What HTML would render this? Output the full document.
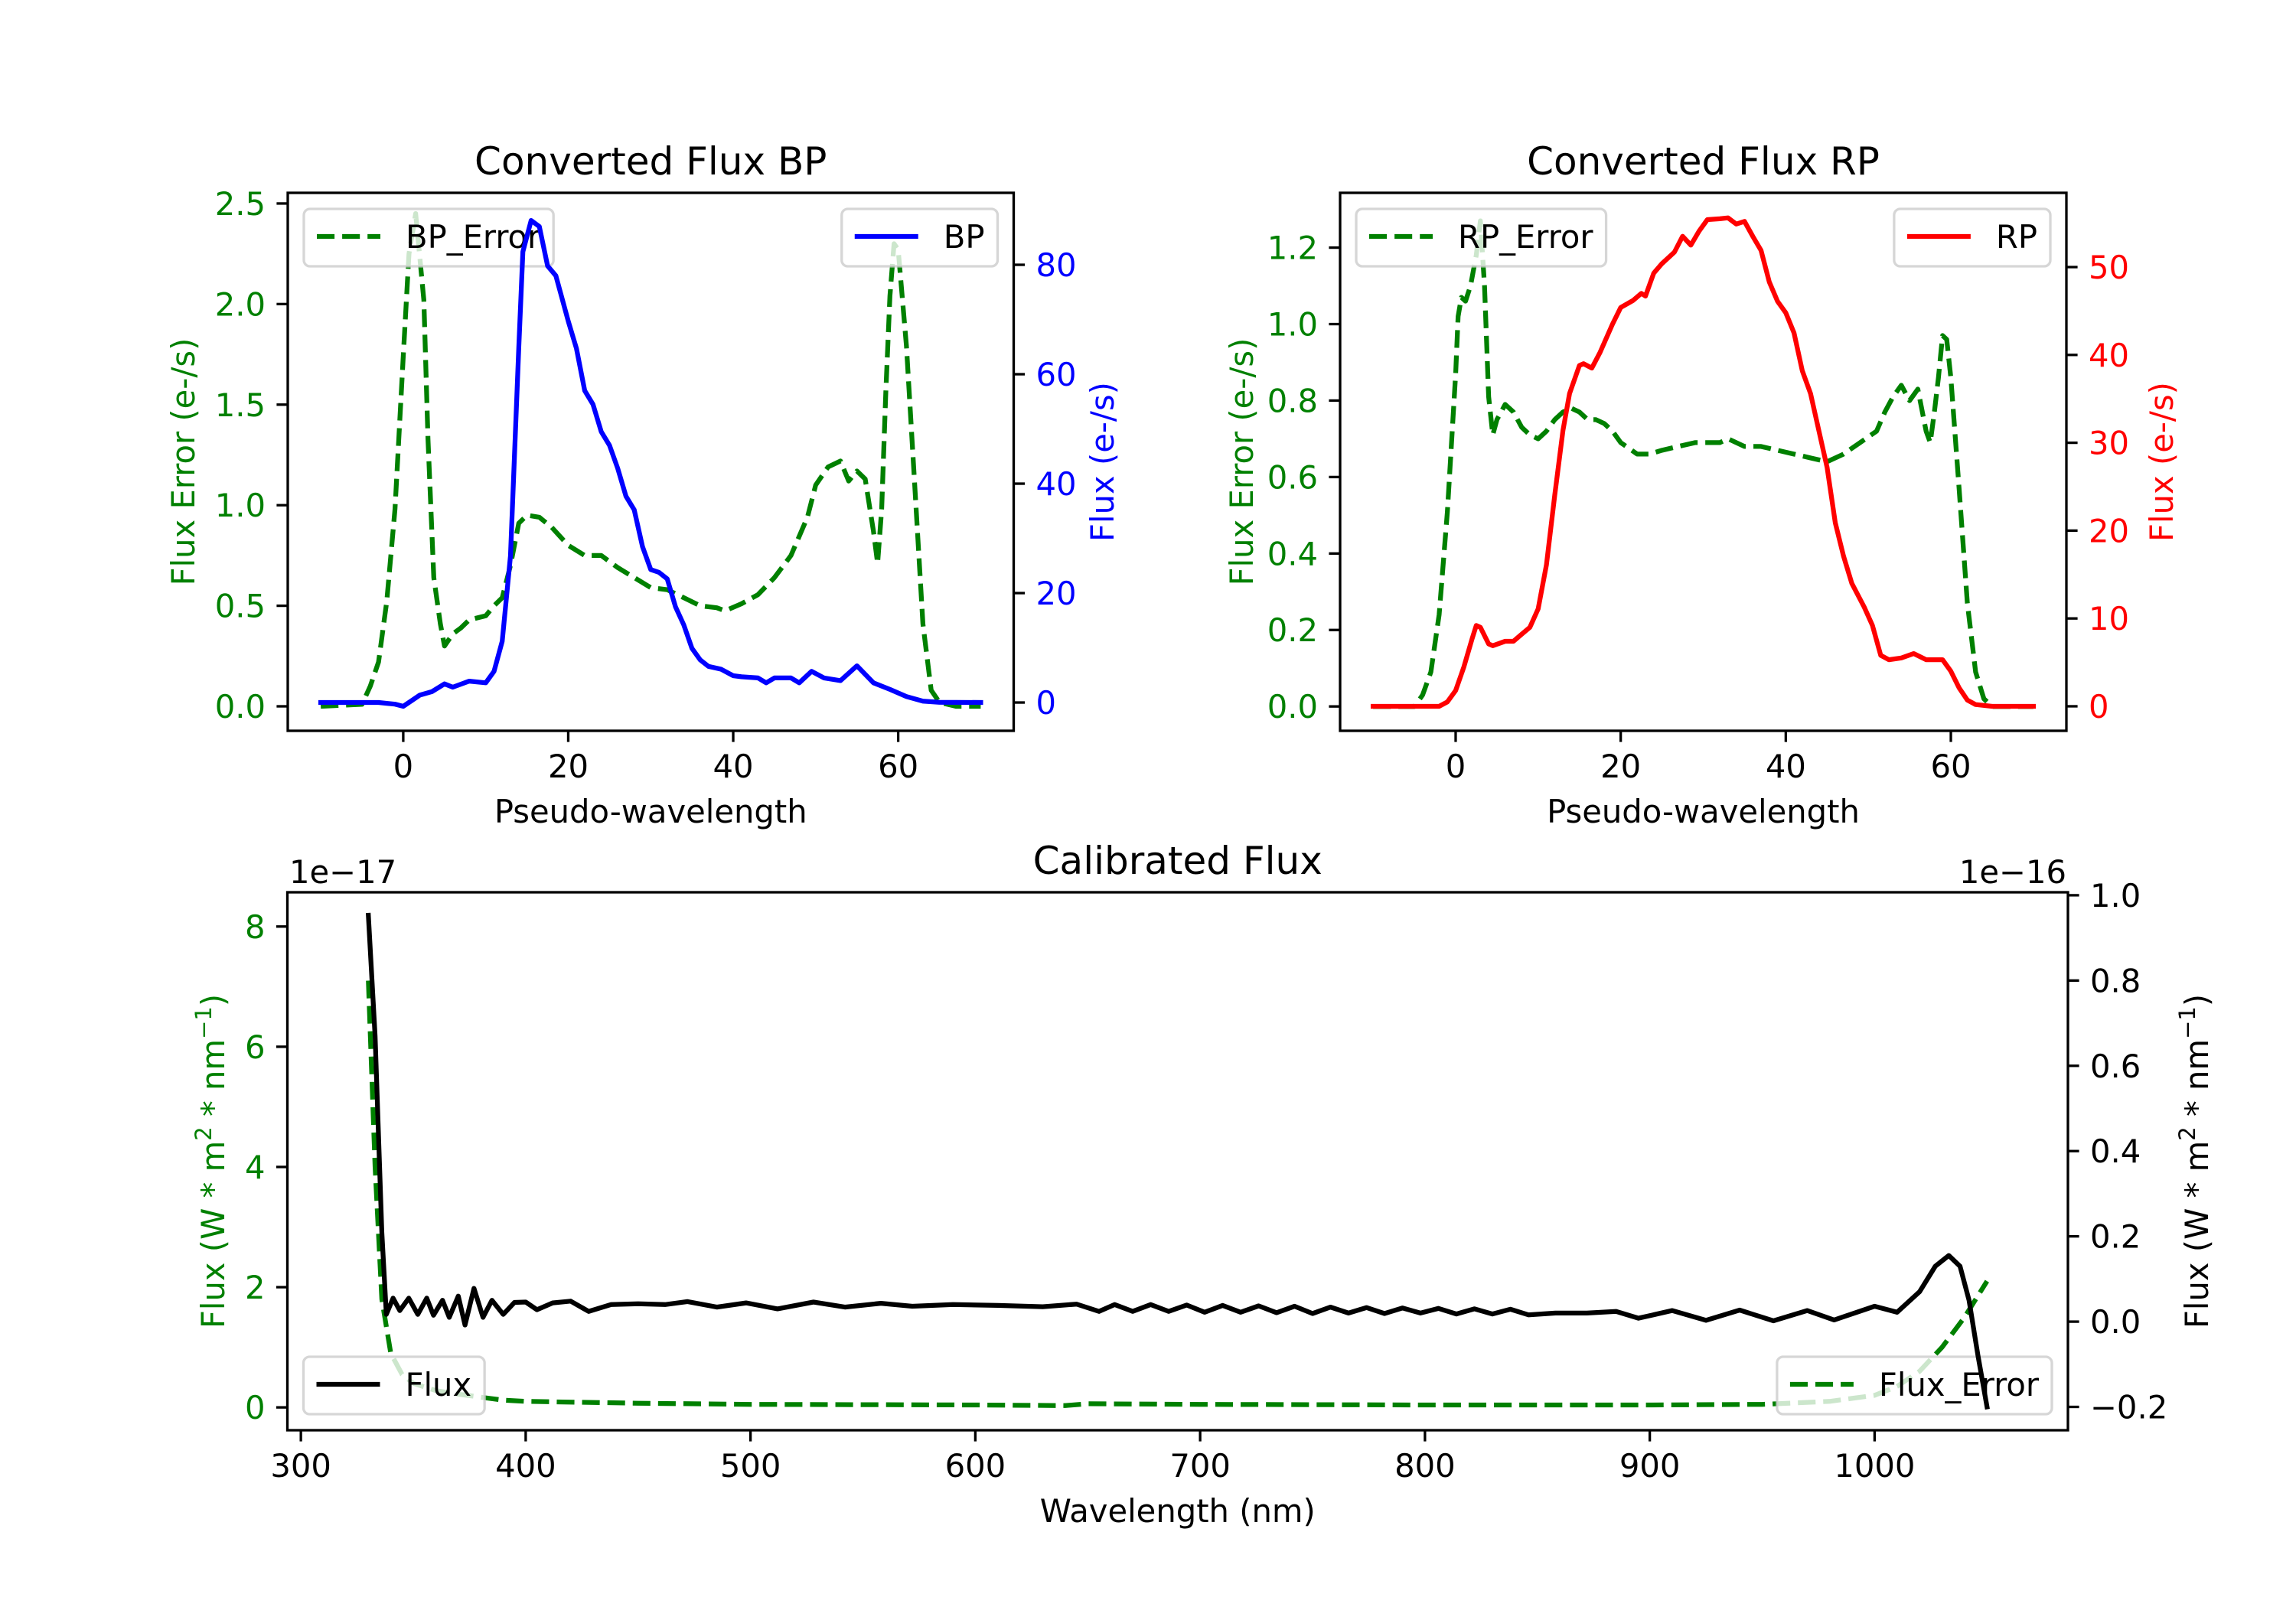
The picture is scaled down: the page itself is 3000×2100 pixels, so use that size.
<!DOCTYPE html>
<html><head><meta charset="utf-8">
<style>
html,body{margin:0;padding:0;background:#fff;}
svg{display:block;font-family:"DejaVu Sans","Liberation Sans",sans-serif;}
</style></head>
<body>
<svg id="fig" width="3000" height="2100" viewBox="0 0 3000 2100" xmlns="http://www.w3.org/2000/svg">
<rect x="0" y="0" width="3000" height="2100" fill="#ffffff"/>
</svg>
<script>
// ---------- BP panel data ----------
const bpX = [-10,-5,-3,-1,0,2,3.5,5,6,8,10,11,12,13,14,14.5,15.5,16.5,17.5,18.5,20,21,22,23,24,25,26,27,28,29,30,31,32,33,34,35,36,37,38.5,40,41,43,44,45,47,48,49.5,51,53,55,57,59,61,63,65,70];
const bpFlux = [0,0,0,-0.3,-0.7,1.35,2,3.4,2.8,3.9,3.6,5.7,11.2,26.8,64.7,82.4,88.1,87,79.8,78,69.7,64.7,57,54.5,49.5,47,42.8,37.7,35.2,28.5,24.3,23.8,22.6,17.5,14.2,9.9,7.8,6.6,6.1,4.9,4.7,4.5,3.6,4.5,4.5,3.6,5.7,4.5,4,6.7,3.6,2.4,1.1,0.25,0.05,0];
const bpErrX = [-10,-5,-4,-3,-2,-1,0,0.7,1.5,2.5,3,3.7,4.5,5,6,7,8,10,11,12,13,14,15,16.5,18,20,22,24,26,28,30,32,34,36,38,39,41,43,45,47,49,50,51.5,53,54,55,56,57,57.5,58,58.5,59,59.5,60,61,62,63,64,65,67,70];
const bpErr = [0,0.01,0.1,0.22,0.52,0.98,1.74,2.25,2.45,2.02,1.33,0.64,0.41,0.3,0.36,0.39,0.43,0.45,0.5,0.54,0.7,0.91,0.95,0.94,0.89,0.8,0.75,0.75,0.69,0.64,0.59,0.58,0.54,0.5,0.49,0.475,0.51,0.555,0.64,0.75,0.94,1.1,1.19,1.22,1.12,1.17,1.13,0.87,0.71,0.98,1.56,2.04,2.3,2.27,1.79,1.1,0.41,0.08,0.02,0,0];
const bpXTicks = [0,20,40,60];
const bpLeftTicks = [0,0.5,1.0,1.5,2.0,2.5];
const bpLeftLabels = ["0.0","0.5","1.0","1.5","2.0","2.5"];
const bpRightTicks = [0,20,40,60,80];
const bpRightLabels = ["0","20","40","60","80"];

// ---------- RP panel data ----------
const rpX = [-10,-2,-1,0,1,2,2.5,3,4,4.5,6,7,8,9,10,11,12,13,13.8,15,15.5,16.5,17.5,19,20,21.5,22.5,23,24,25,26.5,27.5,28.5,29.5,30.5,32,33,34,35,36,37,38,39,40,41,42,43,44,45,46,47,48,49.5,50.5,51.5,52.5,54,55.5,57,58,59,60,61,62,63,65,70];
const rpFlux = [0,0,0.5,1.8,4.5,7.7,9.2,9,7.1,6.9,7.4,7.4,8.2,9,11.1,16.1,24,31.4,35.6,38.8,39,38.5,40.3,43.5,45.4,46.2,47,46.7,49.3,50.4,51.7,53.5,52.5,54.1,55.4,55.5,55.6,54.9,55.2,53.5,51.9,48.3,46.1,44.8,42.5,38.2,35.6,31.4,27.2,20.9,17.1,14,11.3,9.2,5.8,5.3,5.5,6,5.3,5.3,5.3,4,2.1,0.7,0.2,0,0];
const rpErrX = [-10,-5,-4,-3,-2,-1,0,0.3,0.7,1.2,1.8,2.5,3,3.5,4,4.5,5,6,7,8,9,10,11,12,13,14,15,16,17,18,19,20,22,23.5,25,27,29,31,32,33,35,37,39,41,43,45,47,49,51,52,53,54,55,56,57,57.5,58,58.5,59,59.5,60,61,62,63,64,65,70];
const rpErr = [0,0,0.03,0.09,0.24,0.51,0.87,1.02,1.07,1.06,1.1,1.18,1.27,1.1,0.81,0.71,0.75,0.79,0.77,0.73,0.71,0.7,0.72,0.75,0.77,0.78,0.77,0.75,0.75,0.74,0.72,0.69,0.66,0.66,0.67,0.68,0.69,0.69,0.69,0.7,0.68,0.68,0.67,0.66,0.65,0.64,0.66,0.69,0.72,0.77,0.81,0.84,0.8,0.83,0.72,0.69,0.77,0.86,0.97,0.96,0.86,0.57,0.27,0.09,0.02,0,0];
const rpXTicks = [0,20,40,60];
const rpLeftTicks = [0,0.2,0.4,0.6,0.8,1.0,1.2];
const rpLeftLabels = ["0.0","0.2","0.4","0.6","0.8","1.0","1.2"];
const rpRightTicks = [0,10,20,30,40,50];
const rpRightLabels = ["0","10","20","30","40","50"];

// ---------- Calibrated panel data ----------
const calWl = [330,333,336,338,341,344,348,352,356,359,363,366,370,373,377,381,385,390,395,400,405,412,420,428,438,450,462,472,485,498,512,528,542,558,572,590,610,630,645,655,662,670,678,686,694,702,710,718,726,734,742,750,758,766,774,782,790,798,806,814,822,830,838,846,858,872,885,895,910,925,940,955,970,982,1000,1010,1020,1027,1033,1038,1042,1046,1050];
const calFlux = [0.953,0.67,0.21,0.017,0.055,0.026,0.055,0.017,0.055,0.015,0.05,0.01,0.06,-0.008,0.078,0.01,0.05,0.017,0.045,0.046,0.028,0.044,0.048,0.024,0.04,0.042,0.04,0.047,0.034,0.044,0.03,0.046,0.034,0.043,0.036,0.04,0.038,0.035,0.041,0.024,0.04,0.024,0.04,0.024,0.039,0.022,0.038,0.022,0.037,0.021,0.036,0.019,0.034,0.02,0.033,0.019,0.032,0.02,0.031,0.018,0.03,0.018,0.029,0.016,0.02,0.02,0.024,0.008,0.026,0.003,0.027,0.002,0.026,0.004,0.036,0.022,0.07,0.13,0.155,0.13,0.05,-0.08,-0.2];
const calErrWl = [330,333,336,340,345,350,360,370,380,390,400,450,500,600,640,650,700,800,900,950,980,1000,1010,1020,1030,1040,1050];
const calErr = [7.1,4,1.8,0.9,0.55,0.4,0.28,0.22,0.17,0.12,0.1,0.07,0.05,0.04,0.03,0.06,0.05,0.04,0.04,0.05,0.1,0.2,0.35,0.6,1.0,1.5,2.1];
const calXTicks = [300,400,500,600,700,800,900,1000];
const calLeftTicks = [0,2,4,6,8];
const calLeftLabels = ["0","2","4","6","8"];
const calRightTicks = [-0.2,0,0.2,0.4,0.6,0.8,1.0];
const calRightLabels = ["\u22120.2","0.0","0.2","0.4","0.6","0.8","1.0"];

const NS = "http://www.w3.org/2000/svg";
const svg = document.getElementById("fig");
const FS = 41.7, TFS = 50, TL = 14.6, LW = 6.25, SW = 3.3;

function mk(tag, attrs, parent) {
  const e = document.createElementNS(NS, tag);
  for (const k in attrs) e.setAttribute(k, attrs[k]);
  (parent || svg).appendChild(e);
  return e;
}
function txt(s, attrs, parent) {
  const e = mk("text", attrs, parent);
  e.textContent = s;
  return e;
}
function scale(d0, d1, p0, p1) { return v => p0 + (v - d0) / (d1 - d0) * (p1 - p0); }

function drawLine(g, xs, ys, sx, sy, color, dashed, name) {
  const pts = xs.map((x, i) => sx(x).toFixed(1) + "," + sy(ys[i]).toFixed(1)).join(" ");
  const p = mk("polyline", {points: pts, fill: "none", stroke: color, "stroke-width": LW,
    "stroke-linejoin": "round", "stroke-linecap": dashed ? "butt" : "square"}, g);
  if (dashed) p.setAttribute("stroke-dasharray", "23.1 10");
  
  
  return p;
}

function legend(g, label, color, dashed, pos, box, name) {
  const lg = mk("g", {}, g);
  
  
  const t = txt(label, {"font-size": FS, fill: "#000"}, lg);
  const tw = t.getComputedTextLength();
  const w = 17 + 83 + 33 + tw + 17, h = 75, pad = 21;
  const x = pos.indexOf("left") >= 0 ? box.x0 + pad : box.x1 - pad - w;
  const y = pos.indexOf("upper") >= 0 ? box.y0 + pad : box.y1 - pad - h;
  const r = mk("rect", {x: x, y: y, width: w, height: h, rx: 8, fill: "#fff", "fill-opacity": 0.8,
    stroke: "#cccccc", "stroke-opacity": 0.8, "stroke-width": SW}, lg);
  
  
  lg.insertBefore(r, t);
  const ln = mk("line", {x1: x + 17, x2: x + 100, y1: y + 36, y2: y + 36, stroke: color, "stroke-width": LW}, lg);
  if (dashed) ln.setAttribute("stroke-dasharray", "23.1 10");
  
  
  t.setAttribute("x", x + 133);
  t.setAttribute("y", y + 51);
}

function panel(cfg) {
  const g = mk("g", {});
  
  
  const b = cfg.box;
  const sx = scale(cfg.xlim[0], cfg.xlim[1], b.x0, b.x1);
  const syl = scale(cfg.ylimL[0], cfg.ylimL[1], b.y1, b.y0);
  const syr = scale(cfg.ylimR[0], cfg.ylimR[1], b.y1, b.y0);
  drawLine(g, cfg.lx, cfg.ly, sx, syl, cfg.lcolor, cfg.ldash, cfg.name + "-left-series");
  legend(g, cfg.llabel, cfg.lcolor, cfg.ldash, cfg.lpos, b, cfg.name + "-legend-left-axis");
  drawLine(g, cfg.rx, cfg.ry, sx, syr, cfg.rcolor, cfg.rdash, cfg.name + "-right-series");
  legend(g, cfg.rlabel, cfg.rcolor, cfg.rdash, cfg.rpos, b, cfg.name + "-legend-right-axis");
  const sp = mk("rect", {x: b.x0, y: b.y0, width: b.x1 - b.x0, height: b.y1 - b.y0, fill: "none", stroke: "#000", "stroke-width": SW}, g);
  
  
  cfg.xticks.forEach(v => {
    const x = sx(v);
    mk("line", {x1: x, x2: x, y1: b.y1, y2: b.y1 + TL, stroke: "#000", "stroke-width": SW}, g);
    const t = txt(String(v), {x: x, y: b.y1 + 61, "font-size": FS, "text-anchor": "middle", fill: "#000"}, g);
    
    
  });
  cfg.lticks.forEach((v, i) => {
    const y = syl(v);
    mk("line", {x1: b.x0 - TL, x2: b.x0, y1: y, y2: y, stroke: "#000", "stroke-width": SW}, g);
    const t = txt(cfg.llabels[i], {x: b.x0 - 29, y: y + 15, "font-size": FS, "text-anchor": "end", fill: cfg.lcolor}, g);
    
    
  });
  cfg.rticks.forEach((v, i) => {
    const y = syr(v);
    mk("line", {x1: b.x1, x2: b.x1 + TL, y1: y, y2: y, stroke: "#000", "stroke-width": SW}, g);
    const t = txt(cfg.rlabels[i], {x: b.x1 + 29, y: y + 15, "font-size": FS, "text-anchor": "start", fill: cfg.rtickcolor}, g);
    
    
  });
  const cx = (b.x0 + b.x1) / 2, cy = (b.y0 + b.y1) / 2;
  const tt = txt(cfg.title, {x: cx, y: b.y0 - 24, "font-size": TFS, "text-anchor": "middle", fill: "#000"}, g);
  
  
  const xl = txt(cfg.xlabel, {x: cx, y: b.y1 + 120, "font-size": FS, "text-anchor": "middle", fill: "#000"}, g);
  
  
  const ylg = mk("text", {transform: `translate(${cfg.lylx},${cy}) rotate(-90)`, "font-size": FS, "text-anchor": "middle", fill: cfg.lcolor}, g);
  ylg.innerHTML = cfg.lylabel;
  
  
  const yrg = mk("text", {transform: `translate(${cfg.rylx},${cy}) rotate(-90)`, "font-size": FS, "text-anchor": "middle", fill: cfg.rylcolor}, g);
  yrg.innerHTML = cfg.rylabel;
  
  
  return g;
}

const sup2 = 'Flux (W * m<tspan baseline-shift="super" font-size="29">2</tspan> * nm<tspan baseline-shift="super" font-size="29">\u22121</tspan>)';

panel({name: "bp-panel", box: {x0: 376, x1: 1324.5, y0: 252, y1: 955}, xlim: [-14, 74],
  ylimL: [-0.1217, 2.553], ylimR: [-5.17, 93.15],
  lx: bpErrX, ly: bpErr, lcolor: "#008000", ldash: true, llabel: "BP_Error", lpos: "upper left",
  rx: bpX, ry: bpFlux, rcolor: "#0000ff", rdash: false, rlabel: "BP", rpos: "upper right",
  xticks: bpXTicks, lticks: bpLeftTicks, llabels: bpLeftLabels, rticks: bpRightTicks, rlabels: bpRightLabels,
  rtickcolor: "#0000ff", title: "Converted Flux BP", xlabel: "Pseudo-wavelength",
  lylx: 254, lylabel: "Flux Error (e-/s)", rylx: 1455, rylabel: "Flux (e-/s)", rylcolor: "#0000ff"});

panel({name: "rp-panel", box: {x0: 1751, x1: 2700, y0: 252, y1: 955}, xlim: [-14, 74],
  ylimL: [-0.0637, 1.3433], ylimR: [-2.79, 58.45],
  lx: rpErrX, ly: rpErr, lcolor: "#008000", ldash: true, llabel: "RP_Error", lpos: "upper left",
  rx: rpX, ry: rpFlux, rcolor: "#ff0000", rdash: false, rlabel: "RP", rpos: "upper right",
  xticks: rpXTicks, lticks: rpLeftTicks, llabels: rpLeftLabels, rticks: rpRightTicks, rlabels: rpRightLabels,
  rtickcolor: "#ff0000", title: "Converted Flux RP", xlabel: "Pseudo-wavelength",
  lylx: 1637, lylabel: "Flux Error (e-/s)", rylx: 2839, rylabel: "Flux (e-/s)", rylcolor: "#ff0000"});

panel({name: "calibrated-panel", box: {x0: 375.5, x1: 2702, y0: 1166, y1: 1869}, xlim: [294, 1086],
  ylimL: [-0.38, 8.57], ylimR: [-0.2547, 1.007],
  lx: calErrWl, ly: calErr, lcolor: "#008000", ldash: true, llabel: "Flux_Error", lpos: "lower right",
  rx: calWl, ry: calFlux, rcolor: "#000000", rdash: false, rlabel: "Flux", rpos: "lower left",
  xticks: calXTicks, lticks: calLeftTicks, llabels: calLeftLabels, rticks: calRightTicks, rlabels: calRightLabels,
  rtickcolor: "#000000", title: "Calibrated Flux", xlabel: "Wavelength (nm)",
  lylx: 293, lylabel: sup2, rylx: 2885, rylabel: sup2, rylcolor: "#000000"});

const o1 = txt("1e\u221217", {x: 378, y: 1154, "font-size": FS, fill: "#000"});


const o2 = txt("1e\u221216", {x: 2700, y: 1154, "font-size": FS, fill: "#000", "text-anchor": "end"});


</script>
</body></html>
